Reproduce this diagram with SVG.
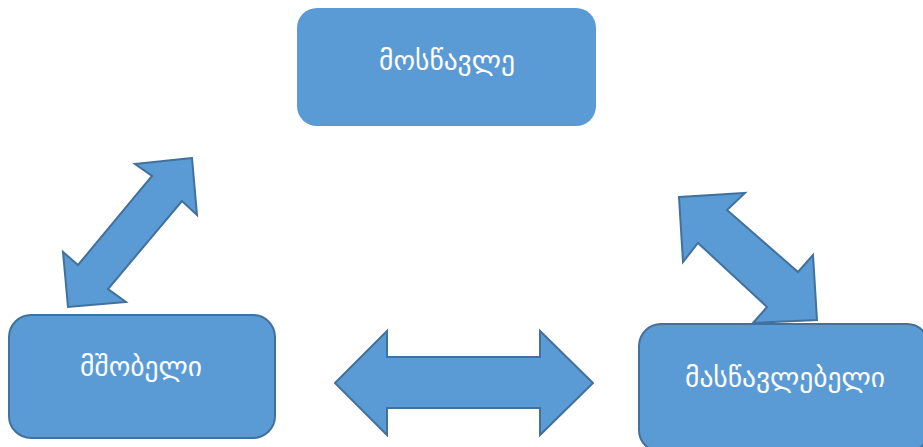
<svg xmlns="http://www.w3.org/2000/svg" width="923" height="447" viewBox="0 0 923 447">
<style>
.box{fill:#5B9BD5;stroke:#41719C;stroke-width:2}
.arr{fill:#5B9BD5;stroke:#41719C;stroke-width:2;stroke-linejoin:miter}
.lbl{font-family:"DejaVu Sans",sans-serif;font-size:27.5px;fill:#FFFFFF;text-anchor:middle}
</style>
<rect width="923" height="447" fill="#FFFFFF"/>
<g id="node-student">
<rect x="297" y="8" width="299" height="118" rx="20" ry="20" fill="#5B9BD5"/>
<text class="lbl" x="447" y="70">მოსწავლე</text>
</g>
<g id="node-parent">
<rect class="box" x="9" y="315" width="266" height="123" rx="22" ry="22"/>
<text class="lbl" x="141" y="376">მშობელი</text>
</g>
<g id="node-teacher">
<rect class="box" x="639" y="324" width="290" height="128" rx="22" ry="22"/>
<text class="lbl" x="785" y="387">მასწავლებელი</text>
</g>
<g id="connectors">
<polygon class="arr" points="192,158 135,164 152,176 78,265 63,252 68,307 126,302 108,289 182,201 197,215"/>
<polygon class="arr" points="679,197 745,193 727,210 798,272 813,255 817,320 753,323 767,307 698,243 683,262"/>
<polygon class="arr" points="335,383 387,331 387,357 540,357 540,331 593,383 540,435 540,408 387,408 387,435"/>
</g>
</svg>
